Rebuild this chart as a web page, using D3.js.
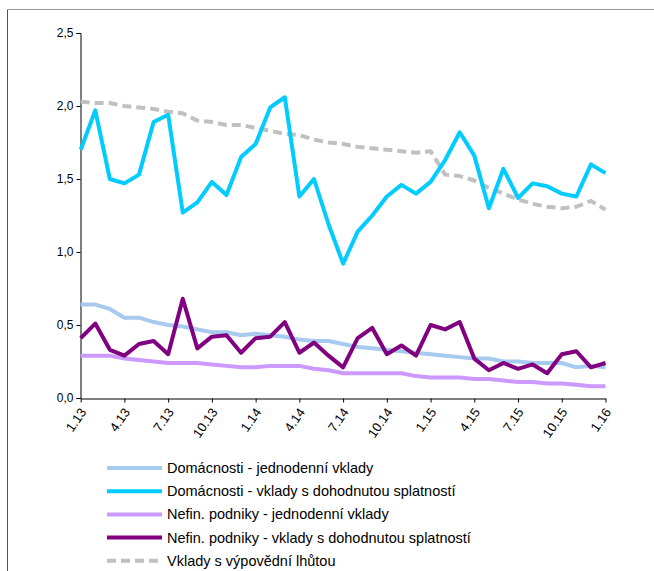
<!DOCTYPE html>
<html><head><meta charset="utf-8">
<script src="https://cdn.jsdelivr.net/npm/d3@7"></script>
<style>body{margin:0;background:#fff}text{font-family:Arial,"Liberation Sans",sans-serif}</style>
</head><body><div id="app"></div>
<script>
const months = d3.range(37).map(i => `${(i % 12) + 1}.${13 + Math.floor(i / 12)}`);
const tickLabels = months.filter((m, i) => i % 3 === 0);

const domJedn = [0.64,0.64,0.61,0.55,0.55,0.52,0.50,0.49,0.47,0.45,0.45,0.43,0.44,0.43,0.42,0.40,0.39,0.39,0.37,0.35,0.34,0.33,0.32,0.31,0.30,0.29,0.28,0.27,0.27,0.25,0.25,0.24,0.24,0.24,0.21,0.22,0.21];
const domDohod = [1.70,1.97,1.50,1.47,1.53,1.89,1.94,1.27,1.34,1.48,1.39,1.65,1.74,1.99,2.06,1.38,1.50,1.19,0.92,1.14,1.25,1.38,1.46,1.40,1.48,1.63,1.82,1.66,1.30,1.57,1.37,1.47,1.45,1.40,1.38,1.60,1.54];
const nefJedn = [0.29,0.29,0.29,0.27,0.26,0.25,0.24,0.24,0.24,0.23,0.22,0.21,0.21,0.22,0.22,0.22,0.20,0.19,0.17,0.17,0.17,0.17,0.17,0.15,0.14,0.14,0.14,0.13,0.13,0.12,0.11,0.11,0.10,0.10,0.09,0.08,0.08];
const nefDohod = [0.41,0.51,0.33,0.29,0.37,0.39,0.30,0.68,0.34,0.42,0.43,0.31,0.41,0.42,0.52,0.31,0.38,0.29,0.21,0.41,0.48,0.30,0.36,0.29,0.50,0.47,0.52,0.27,0.19,0.24,0.20,0.23,0.17,0.30,0.32,0.21,0.24];
const vypoved = [2.03,2.02,2.02,2.00,1.99,1.98,1.96,1.95,1.90,1.89,1.87,1.87,1.85,1.83,1.81,1.80,1.77,1.75,1.74,1.72,1.71,1.70,1.69,1.68,1.69,1.53,1.52,1.49,1.44,1.40,1.36,1.33,1.31,1.30,1.31,1.35,1.29];

const series = [
  { name: 'Domácnosti - jednodenní vklady', values: domJedn, color: '#a6caf0' },
  { name: 'Domácnosti - vklady s dohodnutou splatností', values: domDohod, color: '#00ccff' },
  { name: 'Nefin. podniky - jednodenní vklady', values: nefJedn, color: '#cc99ff' },
  { name: 'Nefin. podniky - vklady s dohodnutou splatností', values: nefDohod, color: '#800080' },
  { name: 'Vklady s výpovědní lhůtou', values: vypoved, color: '#c0c0c0', dash: '9,5' }
];
// draw order: grey dashed behind
const drawOrder = [4, 0, 2, 3, 1];

const svg = d3.select('#app').append('svg').attr('width', 654).attr('height', 571);

// frame
svg.append('line').attr('x1', 7.5).attr('x2', 7.5).attr('y1', 9).attr('y2', 571).attr('stroke', '#555');
svg.append('line').attr('x1', 7).attr('x2', 654).attr('y1', 9.5).attr('y2', 9.5).attr('stroke', '#999');

const x = d3.scalePoint().domain(months).range([80.7, 605.5]);
const y = d3.scaleLinear().domain([0, 2.5]).range([398, 33]);

svg.append('g').attr('transform', 'translate(80.5,0)')
  .call(d3.axisLeft(y).tickValues(d3.range(0, 2.51, 0.5)).tickSize(4).tickFormat(d => d3.format('.1f')(d).replace('.', ',')))
  .call(g => g.selectAll('text').attr('font-size', 12).attr('fill', '#000'))
  .call(g => g.selectAll('line,path').attr('stroke', '#000'));

svg.append('g').attr('transform', 'translate(0,398.5)')
  .call(d3.axisBottom(x).tickValues(tickLabels).tickSize(4).tickSizeOuter(0))
  .call(g => g.select('.domain').attr('stroke', '#000'))
  .call(g => g.selectAll('line').attr('stroke', '#000'))
  .call(g => g.selectAll('text').attr('font-size', 13).attr('fill', '#000')
    .attr('text-anchor', 'end').attr('dy', '0.35em')
    .attr('transform', 'translate(2,11) rotate(-55)').attr('x', 0).attr('y', 0));

const line = d3.line().x((d, i) => x(months[i])).y(d => y(d));

drawOrder.forEach(k => {
  const s = series[k];
  svg.append('path').datum(s.values).attr('d', line)
    .attr('fill', 'none').attr('stroke', s.color).attr('stroke-width', 4)
    .attr('stroke-linejoin', 'round')
    .attr('stroke-dasharray', s.dash || null);
});

const legend = svg.append('g');
series.forEach((s, i) => {
  const ly = 468 + i * 23.2;
  legend.append('line').attr('x1', 107).attr('x2', 162).attr('y1', ly).attr('y2', ly)
    .attr('stroke', s.color).attr('stroke-width', 4).attr('stroke-dasharray', s.dash || null);
  legend.append('text').attr('x', 167).attr('y', ly).attr('dy', '0.35em')
    .attr('font-size', 14.5).attr('fill', '#000').text(s.name);
});
</script></body></html>
